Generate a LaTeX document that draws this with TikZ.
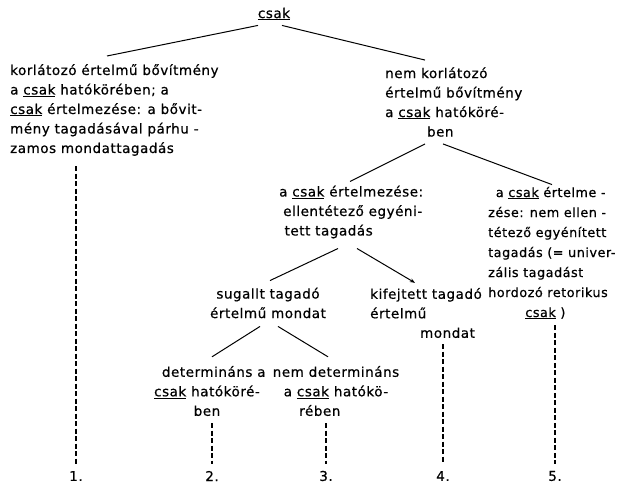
\documentclass[tikz,border=0pt]{standalone}
\usepackage{fontspec}
\setmainfont{DejaVu Sans}[LetterSpace=4.0, FakeBold=0.6]
\usepackage{tikz}
\usetikzlibrary{arrows.meta,positioning,calc}
\newcommand{\csakul}{\underline{csak}}
\tikzset{
  txt/.style={font=\fontsize{13.5}{19.5}\selectfont, align=left, inner sep=0pt},
  ctxt/.style={txt, align=center},
  edge/.style={line width=1pt, black},
  trace/.style={line width=1.2pt, black, dash pattern=on 5pt off 2.5pt},
  num/.style={font=\fontsize{13.5}{15}\selectfont, inner sep=0pt},
}

\begin{document}
\begin{tikzpicture}[x=1pt, y=-1pt]
        \useasboundingbox (0,0) rectangle (622,484);
        \node[ctxt] (root) at (274,14) {\csakul};
        \node[txt, anchor=west] (nL) at (10,110) {korlátozó értelmű bővítmény\\ a \csakul{} hatókörében; a\\ \csakul{} értelmezése: a bővit-\\ mény tagadásával párhu -\\ zamos mondattagadás};
        \node[txt, anchor=west] (n2) at (385,102) {nem korlátozó\\ értelmű bővítmény\\ a \csakul{} hatóköré-\\ \hspace*{3.1em}ben};
        \node[txt, anchor=west] (n3) at (279,212) {a \csakul{} értelmezése:\\ \hspace*{0.3em}ellentétező egyéni-\\ \hspace*{0.4em}tett tagadás};
        \node[txt, anchor=west, font=\fontsize{12.8}{20}\selectfont] (n4) at (488,253) {\hspace*{0.6em}a \csakul{} értelme -\\ zése: nem ellen -\\ tétező egyénített\\ tagadás (= univer-\\ zális tagadást\\ hordozó retorikus\\ \hspace*{2.9em}\csakul{} )};
        \node[ctxt] (n5) at (268,303) {sugallt tagadó\\ értelmű mondat};
        \node[txt, anchor=west] (n6) at (370,313) {kifejtett tagadó\\ értelmű\\ \hspace*{3.7em}mondat};
        \node[ctxt] (n7) at (207,391) {\hspace*{1em}determináns a\\ \csakul{} hatóköré-\\ ben};
        \node[ctxt] (n8) at (336,391) {nem determináns\\ a \csakul{} hatókö-\\ rében\hspace*{2.4em}};
        \node[num] (l1) at (76,476) {1.};
        \node[num] (l2) at (212,476) {2.};
        \node[num] (l3) at (326,476) {3.};
        \node[num] (l4) at (443,476) {4.};
        \node[num] (l5) at (555,476) {5.};
        % tree
        \draw[edge] ([xshift=-16pt,yshift=-5pt]root.south) -- ([xshift=97pt,yshift=8pt]nL.north west);
        \draw[edge] ([xshift=8pt,yshift=-5pt]root.south) -- ([xshift=40pt,yshift=7pt]n2.north west);
        \draw[edge] ([xshift=40pt,yshift=-7pt]n2.south west) -- ([xshift=71pt,yshift=4pt]n3.north west);
        \draw[edge] ([xshift=58pt,yshift=-7pt]n2.south west) -- ([xshift=64pt,yshift=2pt]n4.north west);
        \draw[edge] ([xshift=59pt,yshift=-10pt]n3.south west) -- ([xshift=2pt,yshift=7pt]n5.north);
        \draw[edge, -{Stealth[length=1.8mm,width=1.4mm]}] ([xshift=78pt,yshift=-10pt]n3.south west) -- ([xshift=45pt,yshift=5pt]n6.north west);
        \draw[edge] ([xshift=-8pt,yshift=-8pt]n5.south) -- ([xshift=5pt,yshift=9pt]n7.north);
        \draw[edge] ([xshift=10pt,yshift=-8pt]n5.south) -- ([xshift=-8pt,yshift=9pt]n8.north);
        % traces
        \draw[trace] ([yshift=-10pt]nL.south west -| l1) -- ([yshift=7pt]l1.north);
        \draw[trace] ([yshift=-7pt]n7.south -| l2) -- ([yshift=7pt]l2.north);
        \draw[trace] ([yshift=-7pt]n8.south -| l3) -- ([yshift=7pt]l3.north);
        \draw[trace] ([yshift=-6pt]n6.south -| l4) -- ([yshift=7pt]l4.north);
        \draw[trace] ([yshift=-6pt]n4.south -| l5) -- ([yshift=7pt]l5.north);
      \end{tikzpicture}
\end{document}
